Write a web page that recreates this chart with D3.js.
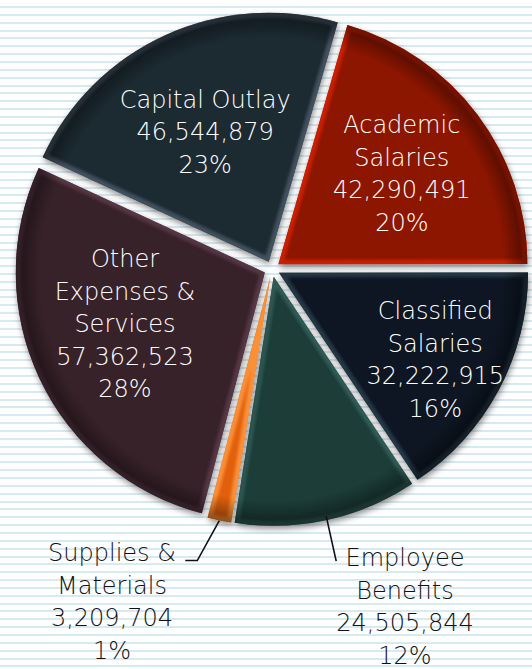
<!DOCTYPE html>
<html>
<head>
<meta charset="utf-8">
<script src="https://cdn.jsdelivr.net/npm/d3@7/dist/d3.min.js"></script>
<style>
  body { margin: 0; background: #fff; }
  svg { display: block; }
</style>
</head>
<body>
<script>
// budget categories, clockwise from the Academic Salaries slice
var categories = ["Academic Salaries", "Classified Salaries", "Employee Benefits",
  "Supplies & Materials", "Other Expenses & Services", "Capital Outlay"];
var labelLines = [["Academic", "Salaries"], ["Classified", "Salaries"], ["Employee", "Benefits"],
  ["Supplies &", "Materials"], ["Other", "Expenses &", "Services"], ["Capital Outlay"]];
var amounts = [42290491, 32222915, 24505844, 3209704, 57362523, 46544879];
var percents = ["20%", "16%", "12%", "1%", "28%", "23%"];

var colors = ["#8d1400", "#0d1822", "#1e3d38", "#e2600e", "#37202b", "#1f2a33"];
var edgeColors = ["#d42200", "#2c3c4c", "#34605a", "#ff9a40", "#5c3a4a", "#4a5866"];

var width = 532, height = 669;
var cx = 272, cy = 269, radius = 249, explode = 8;
// inside labels: distance from centre and position along the slice (0..1)
var labelRadius = [153, 179, 0, 0, 149, 144];
var labelFrac = [0.51, 0.52, 0.5, 0.5, 0.55, 0.48];

var svg = d3.select("body").append("svg")
  .attr("width", width)
  .attr("height", height);

var defs = svg.append("defs");

// striped background
svg.append("rect").attr("width", width).attr("height", height).attr("fill", "#ffffff");
svg.selectAll("rect.stripe")
  .data(d3.range(6, height, 7.85))
  .enter().append("rect")
  .attr("class", "stripe")
  .attr("x", 0)
  .attr("y", function (d) { return Math.round(d); })
  .attr("width", width)
  .attr("height", 2)
  .attr("fill", "#d6eaf2");

var shadow = defs.append("filter").attr("id", "shadow")
  .attr("x", "-20%").attr("y", "-20%").attr("width", "140%").attr("height", "140%");
shadow.append("feDropShadow")
  .attr("dx", 1).attr("dy", 3).attr("stdDeviation", 3)
  .attr("flood-color", "#000").attr("flood-opacity", 0.45);

var soft = defs.append("filter").attr("id", "soft");
soft.append("feGaussianBlur").attr("stdDeviation", 1.6);

var startAngle = 16.1 * Math.PI / 180;
var pie = d3.pie().sort(null).value(function (d) { return d; })
  .startAngle(startAngle).endAngle(startAngle + 2 * Math.PI);
var arcs = pie(amounts);

var arc = d3.arc().innerRadius(0).outerRadius(radius);

function offset(d, k) {
  var a = (d.startAngle + d.endAngle) / 2;
  return [Math.sin(a) * k, -Math.cos(a) * k];
}

var g = svg.append("g").attr("transform", "translate(" + cx + "," + cy + ")");

var slices = g.selectAll("g.slice")
  .data(arcs)
  .enter().append("g")
  .attr("class", "slice")
  .attr("transform", function (d) {
    var o = offset(d, explode);
    return "translate(" + o[0] + "," + o[1] + ")";
  });

slices.each(function (d, i) {
  var s = d3.select(this);
  defs.append("clipPath").attr("id", "clip" + i)
    .append("path").attr("d", arc(d));

  var rg = defs.append("radialGradient").attr("id", "rim" + i)
    .attr("gradientUnits", "userSpaceOnUse")
    .attr("cx", 0).attr("cy", 0).attr("r", radius);
  rg.append("stop").attr("offset", "0.9").attr("stop-color", "#000").attr("stop-opacity", 0);
  rg.append("stop").attr("offset", "1").attr("stop-color", "#000").attr("stop-opacity", 0.45);

  s.append("path")
    .attr("d", arc(d))
    .attr("fill", colors[i])
    .attr("filter", "url(#shadow)");

  var inner = s.append("g").attr("clip-path", "url(#clip" + i + ")");
  inner.append("path")
    .attr("d", arc(d))
    .attr("fill", "none")
    .attr("stroke", edgeColors[i])
    .attr("stroke-width", 9)
    .attr("stroke-linejoin", "miter")
    .attr("filter", "url(#soft)")
    .attr("opacity", 0.85);
  inner.append("path")
    .attr("d", arc(d))
    .attr("fill", "url(#rim" + i + ")");
});

var fmt = d3.format(",");
var lineHeight = 32.5;

function writeLabel(sel, lines, x, y, color) {
  var t = sel.append("text")
    .attr("x", x)
    .attr("y", y)
    .attr("text-anchor", "middle")
    .attr("fill", color)
    .style("font-family", "'DejaVu Sans', sans-serif")
    .style("font-weight", "300")
    .style("font-size", "24px");
  lines.forEach(function (line, k) {
    t.append("tspan")
      .attr("x", x)
      .attr("dy", k === 0 ? 0 : lineHeight)
      .text(line);
  });
}

arcs.forEach(function (d, i) {
  var lines = labelLines[i].concat([fmt(amounts[i]), percents[i]]);
  if (labelRadius[i] > 0) {
    var a = d.startAngle + (d.endAngle - d.startAngle) * labelFrac[i];
    var o = offset(d, explode);
    var x = cx + o[0] + Math.sin(a) * labelRadius[i];
    var y = cy + o[1] - Math.cos(a) * labelRadius[i] - (lines.length - 1) * lineHeight / 2 + 8;
    writeLabel(svg, lines, x, y, "#ffffff");
  }
});

// leader-line labels for the two bottom slices
var outer = [
  { i: 3, from: 249, anchor: [-22, 40], elbow: -12, text: [112, 561] },
  { i: 2, from: 245, anchor: [10, 45], elbow: 0, text: [405, 566] }
];
outer.forEach(function (p) {
  var d = arcs[p.i];
  var o = offset(d, explode);
  var a = (d.startAngle + d.endAngle) / 2;
  var x0 = cx + o[0] + Math.sin(a) * p.from;
  var y0 = cy + o[1] - Math.cos(a) * p.from;
  var x1 = x0 + p.anchor[0], y1 = y0 + p.anchor[1];
  var pts = [[x0, y0], [x1, y1]];
  if (p.elbow) pts.push([x1 + p.elbow, y1]);
  svg.append("path")
    .attr("d", d3.line()(pts))
    .attr("fill", "none")
    .attr("stroke", "#111")
    .attr("stroke-width", 1.6);
  var lines = labelLines[p.i].concat([fmt(amounts[p.i]), percents[p.i]]);
  writeLabel(svg, lines, p.text[0], p.text[1], "#111111");
});
</script>
</body>
</html>
